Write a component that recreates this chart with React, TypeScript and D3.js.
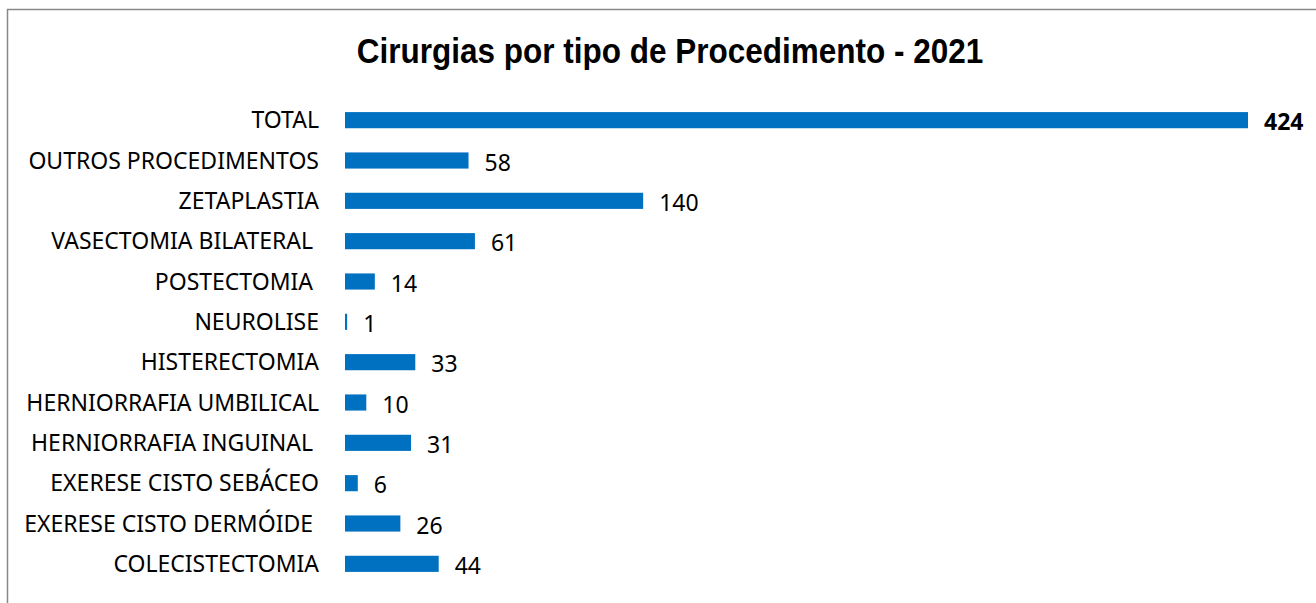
import React from "react";
import * as d3 from "d3";

const categories = [
  "TOTAL",
  "OUTROS PROCEDIMENTOS",
  "ZETAPLASTIA",
  "VASECTOMIA BILATERAL ",
  "POSTECTOMIA ",
  "NEUROLISE",
  "HISTERECTOMIA",
  "HERNIORRAFIA UMBILICAL",
  "HERNIORRAFIA INGUINAL ",
  "EXERESE CISTO SEBÁCEO",
  "EXERESE CISTO DERMÓIDE ",
  "COLECISTECTOMIA",
];
const values = [424, 58, 140, 61, 14, 1, 33, 10, 31, 6, 26, 44];
const title = "Cirurgias por tipo de Procedimento - 2021";

const W = 1316;
const H = 603;

export default function App() {
  const x = d3.scaleLinear().domain([0, 424]).range([345, 1248]);
  const y = d3
    .scaleBand<string>()
    .domain(categories)
    .range([100, 584])
    .paddingInner(0.6)
    .paddingOuter(0.3);
  const font = "'Noto Sans', sans-serif";
  return (
    <svg
      width={W}
      height={H}
      style={{ position: "absolute", left: 0, top: 0, background: "#fff" }}
    >
      <rect x={7.5} y={9.5} width={W + 20} height={H + 20} fill="#fff" stroke="#898989" strokeWidth={1.5} />
      <text
        transform="translate(670,63) scale(1,1.12)"
        textAnchor="middle"
        fontFamily="'Liberation Sans', Arial, sans-serif"
        fontWeight="bold"
        fontSize={31.5}
        fill="#000"
      >
        {title}
      </text>
      {categories.map((c, i) => {
        const yc = (y(c) as number) + y.bandwidth() / 2;
        const v = values[i];
        return (
          <g key={c}>
            <text
              x={319}
              y={yc}
              dy="0.36em"
              textAnchor="end"
              fontFamily={font}
              fontSize={23}
              fill="#000"
              style={{ whiteSpace: "pre" }}
            >
              {c}
            </text>
            <rect
              x={x(0)}
              y={y(c)}
              width={Math.max(x(v) - x(0), 0)}
              height={y.bandwidth()}
              fill="#0070C0"
            />
            <text
              x={x(v) + 16}
              y={yc + 2}
              dy="0.36em"
              fontFamily={font}
              fontSize={23}
              fontWeight={i === 0 ? "bold" : "normal"}
              fill="#000"
            >
              {v}
            </text>
          </g>
        );
      })}
    </svg>
  );
}
